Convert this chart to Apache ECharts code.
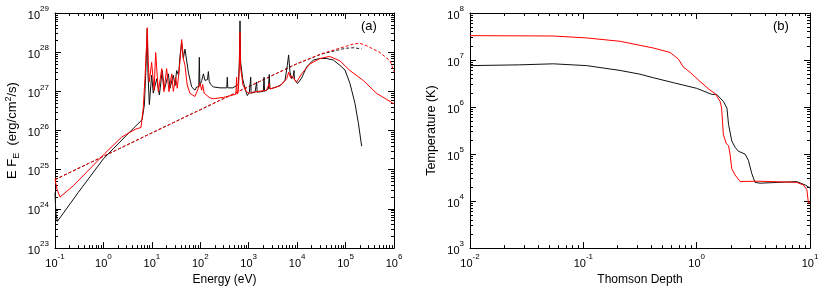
<!DOCTYPE html>
<html><head><meta charset="utf-8">
<script src="https://cdn.jsdelivr.net/npm/echarts@6/dist/echarts.min.js"></script>
<style>html,body{margin:0;padding:0;background:#fff}#c{width:830px;height:291px}</style>
</head><body><div id="c"></div>
<script>
// ---- Panel (a): E F_E (erg/cm^2/s) vs Energy (eV) ----
const spectrumBlack = [[0.1,2.6e24],[0.104,8e23],[0.112,4.8e23],[0.3,2.6e24],[1.0,1.9e25],[3.0,7.6e25],[6.3,1.9e26],[7.0,4.5e26],[7.5,3e27],[7.82,1.5e28],[8.05,4e28],[8.3,3e27],[8.87,4.6e26],[9.9,2.6e27],[10.7,9e26],[12.6,2.1e27],[14.3,8.1e26],[16.4,3.4e27],[18.1,1.1e27],[21.9,2.8e27],[23.7,1.2e27],[27.7,2.6e27],[30.1,1.4e27],[32.5,3.4e27],[35.7,2.6e27],[38.1,8e27],[41.2,1.75e28],[44.7,7e27],[48.3,1.2e28],[56.6,3.1e27],[66.4,1.3e27],[77.8,1.07e27],[84.1,1.3e27],[93,1.3e27],[95.5,7.4e27],[98,1.4e27],[107,1.9e27],[116,2.8e27],[125,1.9e27],[135,2.1e27],[141,2e27],[147,3.2e27],[153,1.8e27],[164,1.5e27],[186,1.3e27],[255,1.23e27],[352,1.23e27],[361,2.3e27],[370,1.23e27],[470,1.23e27],[610,1.5e27],[640,5.5e27],[661,6.3e28],[681,5.5e27],[750,2.1e27],[837,1.2e27],[935,7.8e26],[1030,9.5e26],[1080,9e26],[1100,2.3e27],[1120,9e26],[1350,9.5e26],[1430,9.5e26],[1460,1.74e27],[1490,9.5e26],[2000,1.0e27],[2070,2.3e27],[2130,1.0e27],[2540,1.15e27],[2660,2.7e27],[2740,1.15e27],[3780,1.3e27],[4790,1.5e27],[5610,1.9e27],[6270,4.6e27],[6670,8.5e27],[7110,3.1e27],[7690,2.1e27],[8340,2.5e27],[8610,3.4e27],[8800,2e27],[10200,1.58e27],[12400,2.2e27],[15700,4.2e27],[21600,6.3e27],[29600,6.9e27],[40600,6.9e27],[55800,6.3e27],[76600,4.6e27],[97300,3.5e27],[123000,1.6e27],[156000,5e26],[183000,1.6e26],[215000,4e25]];
const spectrumRed = [[0.1,5.7e24],[0.11,3.2e24],[0.127,2.0e24],[0.239,3.9e24],[1.07,2.6e25],[2.38,6.8e25],[4.49,1.07e26],[5.97,1.2e26],[6.65,3.8e26],[7.2,2.1e27],[7.7,1.2e28],[8.05,4.2e28],[8.4,6e27],[8.85,1.74e27],[9.9,5.5e27],[11.1,1.07e27],[12.0,9.8e27],[13.6,9.8e26],[16.0,3.8e27],[17.8,9.8e26],[20.2,3.8e27],[22.6,9.8e26],[25.7,2.8e27],[27.7,1.0e27],[31.0,2.3e27],[33.5,1.2e27],[38.0,5.5e27],[41.3,2.1e28],[44.7,6.8e27],[48.3,4.6e27],[53.7,1.45e27],[61.2,8.9e26],[77.6,7.4e26],[91.2,1.2e27],[98.6,1.6e27],[107,1.07e27],[112,1.5e27],[120,9e26],[158,6.8e26],[186,6.5e26],[300,7e26],[480,8.1e26],[545,8.5e26],[562,2.3e27],[580,8.5e26],[610,9.8e26],[640,4e27],[661,3.2e28],[681,4e27],[760,1.45e27],[900,9.8e26],[1030,8.9e26],[1200,9.5e26],[2340,1.07e27],[2560,1.15e27],[2660,1.6e27],[2760,1.15e27],[4430,1.38e27],[6070,2.1e27],[6700,3.1e27],[7300,2.2e27],[7690,2.5e27],[9770,1.74e27],[12400,2.8e27],[18300,5e27],[29600,6.9e27],[47000,7.8e27],[76600,6e27],[123000,3.4e27],[232000,1.9e27],[437000,8.9e26],[1000000,4.8e26]];
const incidentBlack = [[0.1,5.6e24],[1,2.2e25],[10,8.7e25],[100,3.4e26],[1000,1.32e27],[10000,5.1e27],[31600,8.9e27],[100000,1.26e28],[150000,1.3e28],[215000,1.2e28]];
const incidentRed = [[0.1,5.6e24],[1,2.2e25],[10,8.7e25],[100,3.4e26],[1000,1.32e27],[10000,5.1e27],[31600,9.1e27],[100000,1.4e28],[145000,1.62e28],[200000,1.68e28],[275000,1.45e28],[513000,9.8e27],[830000,6e27],[1000000,3.2e27]];
const energyDecades = [-1, 6];   // 1e-1 .. 1e6 eV
const fluxDecades = [23, 29];    // 1e23 .. 1e29

// ---- Panel (b): Temperature (K) vs Thomson depth ----
const temperatureBlack = [[0.01,7.6e6],[0.0275,7.9e6],[0.0543,8.3e6],[0.107,7.6e6],[0.211,6.0e6],[0.316,5.0e6],[0.415,4.2e6],[0.622,3.3e6],[1.0,2.5e6],[1.36,1.86e6],[1.50,1.86e6],[1.72,1.32e6],[1.85,9.5e5],[1.91,4.3e5],[2.04,1.9e5],[2.18,1.4e5],[2.33,1.15e5],[2.67,1.0e5],[2.86,7.4e4],[3.06,3.9e4],[3.27,2.5e4],[3.63,2.4e4],[7.64,2.6e4],[9.06,2.2e4],[10,1.9e4]];
const temperatureRed = [[0.01,3.3e7],[0.0543,3.24e7],[0.107,2.95e7],[0.211,2.5e7],[0.415,1.8e7],[0.582,1.45e7],[0.689,1.05e7],[0.762,7.1e6],[0.875,5.5e6],[1.07,3.5e6],[1.31,2.3e6],[1.45,1.95e6],[1.50,1.86e6],[1.61,1.32e6],[1.66,9.5e5],[1.72,2.6e5],[1.82,1.7e5],[1.91,1.5e5],[1.97,1.0e5],[2.04,4.9e4],[2.18,3.6e4],[2.42,2.6e4],[3.39,2.65e4],[7.64,2.5e4],[8.75,2.2e4],[9.38,1.74e4],[9.68,9.1e3],[10,9.3e3]];
const depthDecades = [-2, 1];    // 1e-2 .. 1e1
const tempDecades = [3, 8];      // 1e3 .. 1e8

const L = Math.log10;
const toLog = d => d.map(p => [L(p[0]), L(p[1])]);
function minorVals(a, b){ const o=[]; for(let d=a; d<b; d++) for(let k=2;k<=9;k++) o.push(d+L(k)); return o; }
const FONT = '"Liberation Sans", Arial, Helvetica, sans-serif';
const rich = {
  b:{fontSize:11, fontFamily:FONT, color:'#000', lineHeight:16, verticalAlign:'bottom'},
  s:{fontSize:8, fontFamily:FONT, color:'#000', lineHeight:8, verticalAlign:'top'}
};
const powLabel = v => '{b|10}{s|' + Math.round(v) + '}';
const lineC = '#000';

function axesFor(dim, grid, range, name, nameGap, nameStyle){
  const main = dim==='x' ? 'bottom' : 'left';
  const other = dim==='x' ? 'top' : 'right';
  const base = {type:'value', gridIndex:grid, min:range[0], max:range[1], interval:1, splitLine:{show:false}, scale:false};
  const major = (pos, labels) => Object.assign({}, base, {
    position:pos,
    axisLine:{show:true, onZero:false, lineStyle:{color:lineC, width:1}},
    axisTick:{show:true, inside:true, length:6, lineStyle:{color:lineC, width:1}},
    axisLabel:labels ? {show:true, formatter:powLabel, rich:rich, margin: dim==='x'?5:6} : {show:false}
  });
  const minor = pos => Object.assign({}, base, {
    position:pos,
    axisLine:{show:false, onZero:false},
    axisTick:{show:true, inside:true, length:3, customValues:minorVals(range[0], range[1]), lineStyle:{color:lineC, width:1}},
    axisLabel:{show:false}
  });
  const m = major(main, true);
  m.name = name; m.nameLocation = 'middle'; m.nameGap = nameGap;
  m.nameTextStyle = Object.assign({fontSize:12, color:'#000', fontFamily:FONT}, nameStyle || {});
  return [m, minor(main), major(other, false), minor(other)];
}

const nameStyleA = {fontSize:13, rich:{
  t:{fontSize:13, fontFamily:FONT, color:'#000', lineHeight:17, verticalAlign:'middle'},
  sb:{fontSize:9, fontFamily:FONT, color:'#000', lineHeight:9, verticalAlign:'bottom'},
  sp:{fontSize:9, fontFamily:FONT, color:'#000', lineHeight:9, verticalAlign:'top'}
}};

const xAxis = [].concat(
  axesFor('x', 0, energyDecades, 'Energy (eV)', 23),
  axesFor('x', 1, depthDecades, 'Thomson Depth', 23)
);
const yAxis = [].concat(
  axesFor('y', 0, fluxDecades, '{t|E F}{sb|E}{t|  (erg/cm}{sp|2}{t|/s)}', 34, nameStyleA),
  axesFor('y', 1, tempDecades, 'Temperature (K)', 32, {fontSize:12.5})
);

function ser(name, data, color, xi, dashed){
  return {name, type:'line', data:toLog(data), xAxisIndex:xi, yAxisIndex:xi, showSymbol:false, symbol:'none',
    animation:false, lineStyle:{color, width:1, type: dashed ? [3,2] : 'solid'}, clip:true, z: dashed?2:3};
}

const option = {
  animation:false,
  backgroundColor:'#fff',
  grid:[
    {left:55, top:13, width:339, height:240, containLabel:false},
    {left:470, top:13, width:340, height:240, containLabel:false}
  ],
  xAxis, yAxis,
  series:[
    ser('Incident (black)', incidentBlack, '#222', 0, true),
    ser('Incident (red)', incidentRed, '#ff0000', 0, true),
    ser('Spectrum (black)', spectrumBlack, '#111', 0, false),
    ser('Spectrum (red)', spectrumRed, '#ff0000', 0, false),
    ser('Temperature (black)', temperatureBlack, '#111', 4, false),
    ser('Temperature (red)', temperatureRed, '#ff0000', 4, false)
  ],
  graphic:[
    {type:'text', left:361, top:20, style:{text:'(a)', fontSize:13, fontFamily:FONT, fill:'#000'}},
    {type:'text', left:773, top:20, style:{text:'(b)', fontSize:13, fontFamily:FONT, fill:'#000'}}
  ]
};
const chart = echarts.init(document.getElementById('c'), null, {renderer:'canvas'});
chart.setOption(option);
</script></body></html>
